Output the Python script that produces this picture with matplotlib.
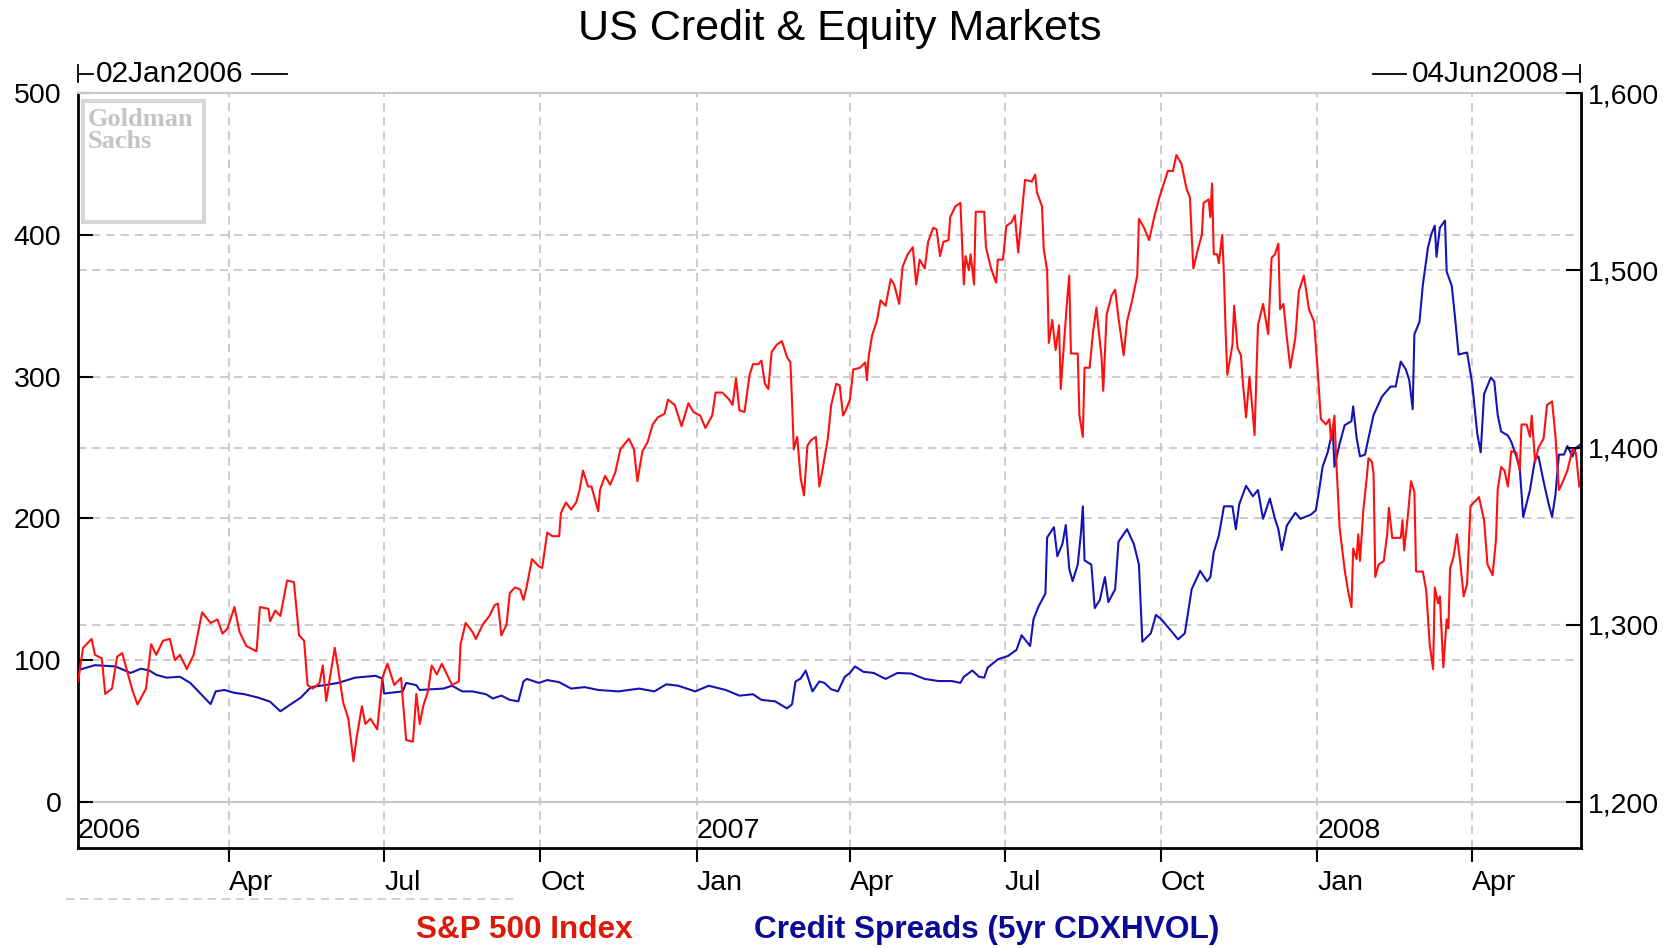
import numpy as np
import matplotlib
matplotlib.use('Agg')
import matplotlib.pyplot as plt
import matplotlib.transforms as mtransforms
from matplotlib.patches import Rectangle
from matplotlib.lines import Line2D

plt.rcParams['font.family'] = ['Liberation Sans', 'DejaVu Sans']

W, H = 1673, 948
START = np.datetime64('2006-01-02')
END = np.datetime64('2008-06-04')

# S&P 500 index (right axis), day offset from 02Jan2006
sp_days = [0, 3, 8, 10, 14, 16, 20, 23, 26, 30, 32, 35, 40, 43, 46, 50, 54, 57, 60, 64, 68, 73, 78, 82, 85, 88,
           92, 95, 99, 105, 107, 112, 113, 116, 119, 123, 127, 130, 133, 135, 138, 142, 144, 146, 151, 153, 156,
           159, 162, 164, 167, 169, 172, 176, 179, 182, 186, 190, 193, 197, 199, 201, 203, 206, 208, 211, 214, 217,
           220, 224, 225, 228, 232, 234, 238, 242, 245, 247, 249, 252, 254, 257, 260, 262, 264, 267, 271, 273, 276,
           279, 283, 284, 287, 290, 293, 295, 297, 300, 302, 306, 307, 310, 313, 316, 319, 324, 327, 329, 332, 335,
           338, 341, 345, 347, 351, 355, 359, 362, 366, 369, 373, 375, 379, 383, 385, 387, 389, 392, 395, 397, 400,
           402, 404, 406, 408, 411, 414, 417, 419, 420, 421, 423, 425, 427, 429, 431, 434, 436, 438, 441,
           443, 446, 448, 450, 452, 454, 456, 460, 463, 464, 465, 467, 470, 472, 475, 478, 480, 483, 485, 488, 491,
           493, 495, 498, 500, 503, 505, 507, 509, 512, 513, 516, 519, 521, 522, 524, 525, 527, 528, 531, 533, 534,
           537, 540, 541, 544, 546, 549, 551, 553, 555, 557, 561, 563, 564, 567, 568, 570, 571, 573, 575, 577, 578,
           580, 582, 583, 584, 588, 589, 591, 592, 595, 597, 599, 600, 602, 603, 605, 608, 610, 612, 615, 617, 620,
           623, 624, 627, 630, 633, 636, 638, 641, 644, 646, 649, 652, 654, 655, 656, 659,
           661, 662, 665, 666, 667, 668, 670, 671, 673, 674, 675, 676, 679, 680, 682, 684, 685, 687, 689, 691, 692,
           694, 697, 700, 702, 704, 706, 707, 709, 711, 713, 716, 718, 721, 724, 727, 729, 731, 734, 736, 737, 739,
           740, 742, 745, 747, 749, 750, 752, 753, 754, 756, 758, 759, 761, 762, 763, 765, 768, 770, 771, 773, 778,
           779, 780, 782, 784, 786, 787, 791, 793, 795, 797, 798, 800, 801, 803, 805, 806, 807, 809, 811, 813, 815,
           817, 819, 822, 824, 827, 829, 832, 834, 835, 837, 839, 841, 843, 846, 848, 849, 852, 854, 855, 857, 859,
           862, 864, 867, 869, 871, 873, 876, 879, 881, 883]
sp_values = [1268, 1287, 1292, 1283, 1281, 1261, 1264, 1282, 1284, 1270, 1263, 1255, 1264, 1289, 1283, 1291, 1292,
             1280, 1283, 1275, 1283, 1307, 1301, 1303, 1295, 1298, 1310, 1296, 1288, 1285, 1310, 1309, 1302, 1308,
             1305, 1325, 1324, 1294, 1291, 1266, 1264, 1267, 1277, 1257, 1287, 1275, 1256, 1247, 1223, 1237, 1254,
             1244, 1247, 1241, 1270, 1278, 1266, 1270, 1235, 1234, 1261, 1244, 1254, 1263, 1277, 1272, 1278, 1272,
             1266, 1268, 1289, 1301, 1296, 1292, 1300, 1305, 1311, 1312, 1294, 1300, 1318, 1321, 1320, 1314, 1322,
             1337, 1333, 1332, 1352, 1350, 1350, 1363, 1369, 1365, 1369, 1376, 1387, 1378, 1378, 1364, 1376, 1384,
             1379, 1386, 1399, 1405, 1399, 1381, 1398, 1403, 1413, 1417, 1419, 1427, 1424, 1412, 1425, 1420, 1418,
             1411, 1418, 1431, 1431, 1427, 1424, 1439, 1421, 1420, 1441, 1447, 1447, 1449, 1436, 1433, 1454, 1458,
             1460, 1451, 1448, 1425, 1399, 1406, 1383, 1373, 1401, 1404, 1406, 1378, 1388, 1405,
             1424, 1436, 1435, 1418, 1422, 1427, 1444, 1445, 1448, 1438, 1451, 1463, 1472, 1483, 1480, 1495, 1492,
             1481, 1502, 1509, 1513, 1492, 1506, 1501, 1516, 1524, 1523, 1508, 1516, 1517, 1530, 1536, 1538, 1492,
             1508, 1500, 1509, 1492, 1533, 1533, 1533, 1513, 1501, 1493, 1506, 1506, 1525, 1527, 1531, 1510, 1531,
             1551, 1550, 1554, 1544, 1536, 1512, 1500, 1459, 1472, 1455, 1469, 1433, 1460, 1486, 1497, 1453, 1453,
             1418, 1406, 1445, 1445, 1465, 1479, 1469, 1451, 1432, 1475, 1486, 1489, 1473, 1452, 1471, 1483, 1497,
             1529, 1524, 1517, 1530, 1541, 1547, 1556, 1556, 1565, 1560, 1546, 1541, 1520, 1501, 1513,
             1520, 1538, 1540, 1530, 1549, 1509, 1509, 1504, 1520, 1497, 1465, 1441, 1458, 1480, 1456, 1452, 1438,
             1417, 1440, 1419, 1407, 1469, 1481, 1464, 1507, 1509, 1515, 1478, 1481, 1462, 1445, 1462, 1488, 1497,
             1478, 1471, 1445, 1416, 1413, 1416, 1404, 1418, 1394, 1355, 1331, 1319, 1310, 1343, 1337, 1351, 1336,
             1365, 1383, 1394, 1392, 1385, 1327, 1334, 1336, 1351, 1366, 1349, 1349, 1359, 1342, 1360, 1381, 1375,
             1330, 1330, 1319, 1289, 1275, 1321, 1312, 1316, 1276, 1303, 1298, 1332, 1338, 1351, 1335, 1316, 1323,
             1367, 1370, 1372, 1359, 1334, 1328, 1348, 1376, 1389, 1387, 1378, 1398, 1397, 1387, 1413, 1413, 1406,
             1418, 1392, 1400, 1405, 1424, 1426, 1406, 1376, 1380, 1387, 1399, 1397, 1378]

# Credit spreads, 5yr CDX HVOL (left axis)
cdx_days = [0, 10, 22, 31, 37, 42, 46, 52, 60, 66, 72, 78, 81, 86, 92, 98, 106, 113, 119, 124, 131, 137, 145, 153,
            163, 175, 179, 180, 191, 193, 199, 201, 208, 215,
            220, 226, 232, 240, 244, 249, 254, 259, 262, 264, 271, 276, 283, 290, 298, 306, 318, 330, 339, 346, 353,
            363, 371, 381, 389, 397, 402, 410, 417, 420, 422, 425, 428, 432, 436, 439,
            443, 447, 451, 454, 457, 462, 468, 475, 482, 490, 498, 506, 514, 519, 521, 526, 530, 533, 535, 541, 547,
            552, 555, 560, 562, 565, 569, 570, 574, 576, 579, 581, 583, 585, 588, 590, 591, 592, 596, 598, 601, 604,
            606, 610, 612, 617, 621, 624, 626, 631, 634, 637, 642, 647, 651, 655,
            660, 664, 666, 668, 671, 674, 679, 681, 683, 687, 691, 694, 697, 701, 704, 706, 708, 711, 716, 719, 725,
            728, 730, 732, 735, 738, 739, 742, 745, 749, 750, 752, 754, 757, 758, 762, 767, 772, 775, 778, 781, 783,
            785, 786, 789, 791, 794, 796, 798, 799, 801, 804, 805, 808, 810, 812, 817, 820, 823, 825, 827, 831, 833,
            835, 837, 841, 843, 846, 848, 850, 854, 857, 859, 862, 865, 867, 869, 871, 874, 876, 879, 881, 884]
cdx_values = [93, 96.5, 95.6, 91, 94, 92.7, 89.7, 87.7, 88.3, 84, 76.5, 69, 78, 79, 77, 76, 73.6, 70.7, 64, 68,
              73.6, 81, 82.4, 84, 87.7, 89, 87, 76.5, 78, 84, 82.4, 79, 79.5, 80,
              82, 78, 78, 76, 73, 75, 72, 71, 85, 86.8, 84, 86, 84.5, 80, 81, 79, 78, 80, 78, 83, 82, 78, 82, 79,
              75, 76, 72, 71, 66, 69, 85, 87, 92.7, 78, 85, 84,
              79.5, 78, 88.3, 91, 95.6, 91.8, 91, 86.8, 91, 90.6, 86.8, 85.3, 85.3, 84, 88.3, 92.7, 88.3, 87.7,
              94.7, 100.6, 103, 107.3, 117.6, 110, 129, 138, 147, 186.5, 193.8, 173.3, 182, 195.3, 164.5, 155.7,
              167.4, 190.9, 208.5, 170.4, 167.4, 136.7, 142.5, 158.6, 141, 150, 183.6, 192.4, 182, 167.4, 113, 119,
              132, 129, 122, 114.7, 119, 150,
              163, 155.7, 158.6, 176, 188, 208.5, 208.5, 192.4, 210, 223, 215.6, 220, 199.7, 214, 199.7, 192.4,
              177.7, 195, 204, 199.7, 202.6, 205.6, 220, 236.4, 246.6, 262.7, 236.4, 252.5, 265.7, 268.6, 279, 257,
              243.7, 245, 251, 273, 286, 293, 293, 310.6, 305, 297.5, 277, 329.8, 338.6, 365, 391, 400.6, 406.5,
              384.5, 405, 410, 374, 364, 340.6, 315.6, 317, 295, 259.8, 246.6, 287.7, 299.4, 296.5, 273, 261.3,
              258.4, 254, 243.7, 235, 201, 220, 242, 243.7, 226, 210, 201, 217, 245, 245, 251, 243.7, 249.6, 252.5]

quarter_ticks = ['2006-04-01', '2006-07-01', '2006-10-01', '2007-01-01', '2007-04-01', '2007-07-01',
                 '2007-10-01', '2008-01-01', '2008-04-01']
quarter_labels = ['Apr', 'Jul', 'Oct', 'Jan', 'Apr', 'Jul', 'Oct', 'Jan', 'Apr']
year_labels = ['2006', '2007', '2008']
year_starts = ['2006-01-02', '2007-01-01', '2008-01-01']
left_ticks = [0, 100, 200, 300, 400, 500]
right_ticks = [1200, 1300, 1400, 1500, 1600]


def fx(x):
    return x / W


def fy(y):
    return 1 - y / H


fig = plt.figure(figsize=(W / 100, H / 100), dpi=100)
ax = fig.add_axes([fx(78), fy(848), (1581 - 78) / W, (848 - 93) / H])
ax2 = ax.twinx()

sp_dates = START + np.array(sp_days).astype('timedelta64[D]')
cdx_dates = START + np.array(cdx_days).astype('timedelta64[D]')

ax.set_xlim(START, END)
ax.set_ylim(-32.44, 500)
ax2.set_ylim(1174.05, 1600)

# grid
grid_kw = dict(color='#c4c4c4', lw=1.2, ls=(0, (5, 3.5)), zorder=1)
for v in left_ticks[1:-1]:
    ax.axhline(v, **grid_kw)
right_tr = mtransforms.blended_transform_factory(ax.transAxes, ax2.transData)
for v in right_ticks[1:-1]:
    ax.plot([0, 1], [v, v], transform=right_tr, **grid_kw)
for d in quarter_ticks:
    ax.axvline(np.datetime64(d), **grid_kw)
ax.axhline(0, color='#c8c8c8', lw=1.5, zorder=1)

ax.plot(cdx_dates, cdx_values, color='#1414b4', lw=1.5, zorder=3)
ax2.plot(sp_dates, sp_values, color='#ff1010', lw=1.5, zorder=3)

# axes styling
for s in ['left', 'bottom']:
    ax.spines[s].set_linewidth(2)
    ax.spines[s].set_color('black')
ax.spines['right'].set_visible(False)
ax.spines['top'].set_color('#c8c8c8')
ax.spines['top'].set_linewidth(1.5)
for s in ['left', 'bottom', 'top']:
    ax2.spines[s].set_visible(False)
ax2.spines['right'].set_linewidth(2)
ax2.spines['right'].set_color('black')

ax.set_yticks(left_ticks)
ax.set_yticklabels([str(v) for v in left_ticks])
ax.tick_params(axis='y', direction='in', length=11, width=1.5, labelsize=20.5, pad=12)
ax2.set_yticks(right_ticks)
ax2.set_yticklabels([f'{v:,}' for v in right_ticks])
ax2.tick_params(axis='y', direction='in', length=11, width=1.5, labelsize=20.5, pad=5)

ax.set_xticks([np.datetime64(d) for d in quarter_ticks])
ax.set_xticklabels(quarter_labels)
ax.tick_params(axis='x', direction='out', length=10, width=1.5, labelsize=20.5, pad=6)
for lbl in ax.get_xticklabels():
    lbl.set_ha('left')

year_tr = mtransforms.blended_transform_factory(ax.transData, ax.transAxes)
for lab, d in zip(year_labels, year_starts):
    ax.text(np.datetime64(d), 0.022, lab, transform=year_tr, ha='left', va='center', fontsize=20.5)

# title
fig.text(fx(840), fy(29), 'US Credit & Equity Markets', ha='center', va='center', fontsize=31)

# date range header
hl = dict(color='black', lw=1.3, transform=fig.transFigure)
fig.add_artist(Line2D([fx(78), fx(78)], [fy(65), fy(82)], **hl))
fig.add_artist(Line2D([fx(78), fx(93)], [fy(73.5), fy(73.5)], **hl))
fig.text(fx(96), fy(73.5), '02Jan2006', ha='left', va='center', fontsize=21.5)
fig.add_artist(Line2D([fx(252), fx(287)], [fy(73.5), fy(73.5)], **hl))
fig.add_artist(Line2D([fx(1373), fx(1406)], [fy(73.5), fy(73.5)], **hl))
fig.text(fx(1559), fy(73.5), '04Jun2008', ha='right', va='center', fontsize=21.5)
fig.add_artist(Line2D([fx(1563), fx(1580)], [fy(73.5), fy(73.5)], **hl))
fig.add_artist(Line2D([fx(1580), fx(1580)], [fy(65), fy(82)], **hl))

# logo watermark
fig.add_artist(Rectangle((fx(83), fy(222)), (204 - 83) / W, (222 - 101) / H, transform=fig.transFigure,
                         fill=False, edgecolor='#d6d6d6', lw=3))
fig.text(fx(88), fy(120), 'Goldman', ha='left', va='center', fontsize=19, color='#c4c4c4',
         family='Liberation Serif', weight='bold')
fig.text(fx(88), fy(142), 'Sachs', ha='left', va='center', fontsize=19, color='#c4c4c4',
         family='Liberation Serif', weight='bold')

# stray dashed rule under the axis
fig.add_artist(Line2D([fx(66), fx(515)], [fy(899), fy(899)], color='#c8c8c8', lw=1.2, ls=(0, (5, 3.5)),
                      transform=fig.transFigure))

# legend
fig.text(fx(524), fy(930), 'S&P 500 Index', ha='center', va='center', fontsize=22.7, weight='bold',
         color='#dd1a0a')
fig.text(fx(987), fy(930), 'Credit Spreads (5yr CDXHVOL)', ha='center', va='center', fontsize=22.8,
         weight='bold', color='#0a0a96')

fig.savefig('out.png', dpi=100)
